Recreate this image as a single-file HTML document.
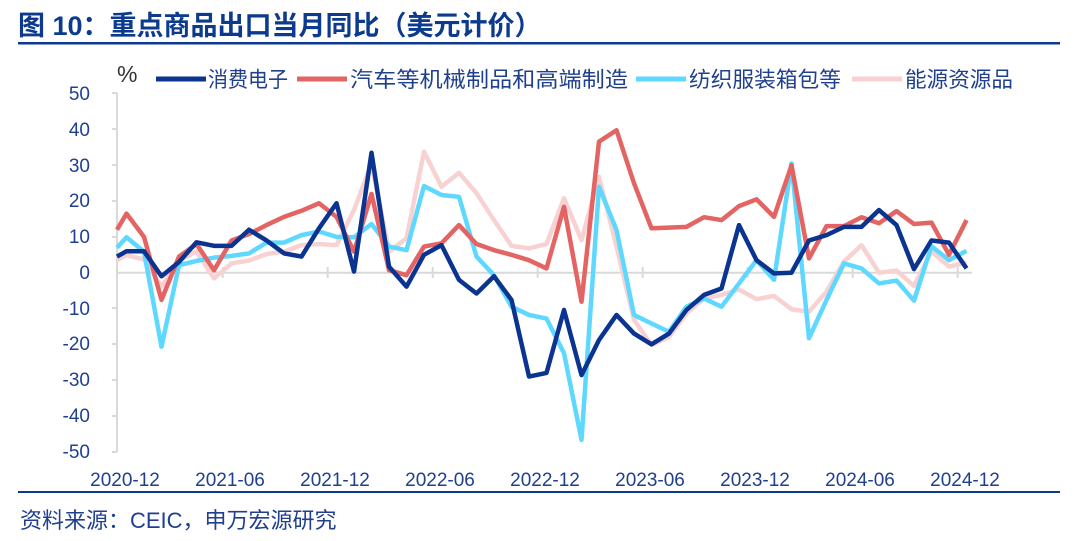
<!DOCTYPE html>
<html><head><meta charset="utf-8"><style>
body{margin:0;background:#fff;}
svg{display:block;font-family:"Liberation Sans","Noto Sans CJK SC",sans-serif;}
</style></head><body>
<svg width="1080" height="541" viewBox="0 0 1080 541" xmlns="http://www.w3.org/2000/svg">
<text x="18" y="35" font-size="27" font-weight="bold" fill="#0b3a8f">图 10：重点商品出口当月同比（美元计价）</text>
<rect x="18" y="42" width="1042" height="2.5" fill="#0b3a8f"/>
<text x="117" y="82" font-size="23" fill="#333">%</text>
<g font-size="21.5" fill="#1f3f8f">
<line x1="156" y1="79" x2="206" y2="79" stroke="#0b3390" stroke-width="5"/><text x="208" y="87" textLength="80" lengthAdjust="spacingAndGlyphs">消费电子</text>
<line x1="297" y1="79" x2="347" y2="79" stroke="#e46464" stroke-width="5"/><text x="350" y="87" textLength="278" lengthAdjust="spacingAndGlyphs">汽车等机械制品和高端制造</text>
<line x1="636" y1="79" x2="686" y2="79" stroke="#5ed8ff" stroke-width="5"/><text x="689" y="87" textLength="152" lengthAdjust="spacingAndGlyphs">纺织服装箱包等</text>
<line x1="852" y1="79" x2="902" y2="79" stroke="#f8d2d2" stroke-width="5"/><text x="905" y="87" textLength="108" lengthAdjust="spacingAndGlyphs">能源资源品</text>
</g>
<g font-size="19" fill="#1f3f8f" text-anchor="end">
<text x="90" y="100">50</text><text x="90" y="136">40</text><text x="90" y="172">30</text><text x="90" y="207">20</text><text x="90" y="243">10</text><text x="90" y="279">0</text><text x="90" y="315">-10</text><text x="90" y="350">-20</text><text x="90" y="386">-30</text><text x="90" y="422">-40</text><text x="90" y="458">-50</text>
</g>
<g stroke="#d9d9d9" stroke-width="2" fill="none">
<path d="M117 93V452M112 93H117M112 129H117M112 165H117M112 201H117M112 237H117M112 308H117M112 344H117M112 380H117M112 416H117M112 452H117"/>
<path d="M117 272.7H972"/>
<path d="M222.7 267V278M327.7 267V278M432.7 267V278M537.7 267V278M642.7 267V278M747.7 267V278M852.7 267V278M957.7 267V278"/>
</g>
<g font-size="19" fill="#1f3f8f" text-anchor="middle">
<text x="125" y="486">2020-12</text><text x="230" y="486">2021-06</text><text x="335" y="486">2021-12</text><text x="440" y="486">2022-06</text><text x="545" y="486">2022-12</text><text x="650" y="486">2023-06</text><text x="755" y="486">2023-12</text><text x="860" y="486">2024-06</text><text x="965" y="486">2024-12</text>
</g>
<g fill="none" stroke-width="4.5" stroke-linejoin="round" transform="translate(126.5,272.7) scale(17.5,-3.58)">
<polyline vector-effect="non-scaling-stroke" stroke="#f8d2d2" points="-0.543,3.5 0,4.9 1,3.7 2,-3.9 3,3.5 4,5.9 5,-1.6 6,2.6 7,3.4 8,5.2 9,5.9 10,7.7 11,8 12,7.7 13,17.5 14,30.5 15,5.9 16,9.6 17,33.8 18,24 19,27.9 20,22.2 21,14.7 22,7.5 23,6.8 24,8 25,20.8 26,9.1 27,26.8 28,7.3 29,-13.2 30,-20.2 31,-17.9 32,-11.4 33,-7.2 34,-6.2 35,-4.7 36,-7.4 37,-6.5 38,-10.2 39,-10.9 40,-5.3 41,3.1 42,7.7 43,0 44,0.6 45,-3.7 46,5.9 47,1.7 48,2.8"/>
<polyline vector-effect="non-scaling-stroke" stroke="#5ed8ff" points="-0.543,7 0,9.9 1,5.9 2,-20.7 3,2.1 4,3.3 5,4.2 6,4.7 7,5.4 8,8.4 9,8.4 10,10.5 11,11.5 12,10 13,9.9 14,13.6 15,7.3 16,6.3 17,24.2 18,21.7 19,21.2 20,4.5 21,-0.7 22,-9.5 23,-11.8 24,-12.8 25,-22.5 26,-46.7 27,24 28,11.9 29,-11.8 30,-14.2 31,-16.5 32,-9.5 33,-7.2 34,-9.5 35,-3 36,3.5 37,-2 38,30.5 39,-18.3 40,-7.6 41,2.6 42,1.2 43,-3 44,-2.2 45,-7.8 46,7.4 47,3.5 48,6.1"/>
<polyline vector-effect="non-scaling-stroke" stroke="#e46464" points="-0.543,12 0,16.5 1,10 2,-7.6 3,4.5 4,8 5,0.7 6,9 7,10.8 8,13.3 9,15.6 10,17.3 11,19.4 12,15.6 13,5.9 14,22 15,0.7 16,-0.7 17,7.3 18,8.2 19,13.3 20,8 21,6.3 22,5 23,3.5 24,1.2 25,18.4 26,-8.1 27,36.6 28,39.8 29,25 30,12.4 31,12.6 32,12.8 33,15.5 34,14.7 35,18.6 36,20.5 37,15.6 38,30 39,4 40,13 41,13 42,15.5 43,13.8 44,17.2 45,13.6 46,14 47,5 48,14.7"/>
<polyline vector-effect="non-scaling-stroke" stroke="#0b3390" points="-0.543,4.5 0,6 1,6 2,-1 3,3 4,8.5 5,7.5 6,7.5 7,12 8,9 9,5.4 10,4.5 11,12.4 12,19.4 13,0.3 14,33.5 15,1.7 16,-3.9 17,5 18,7.7 19,-2 20,-5.8 21,-1 22,-7.6 23,-29 24,-28 25,-10.4 26,-28.6 27,-18.8 28,-11.8 29,-17 30,-20 31,-17 32,-10.4 33,-6.2 34,-4.4 35,13.3 36,3.5 37,-0.2 38,0 39,9 40,10.5 41,12.8 42,12.8 43,17.5 44,13.3 45,1 46,9 47,8.4 48,1.2"/>
</g>
<rect x="18" y="491" width="1042" height="2" fill="#0b3a8f"/>
<text x="20" y="528" font-size="22" fill="#1f3f8f">资料来源：CEIC，申万宏源研究</text>
</svg>
</body></html>
